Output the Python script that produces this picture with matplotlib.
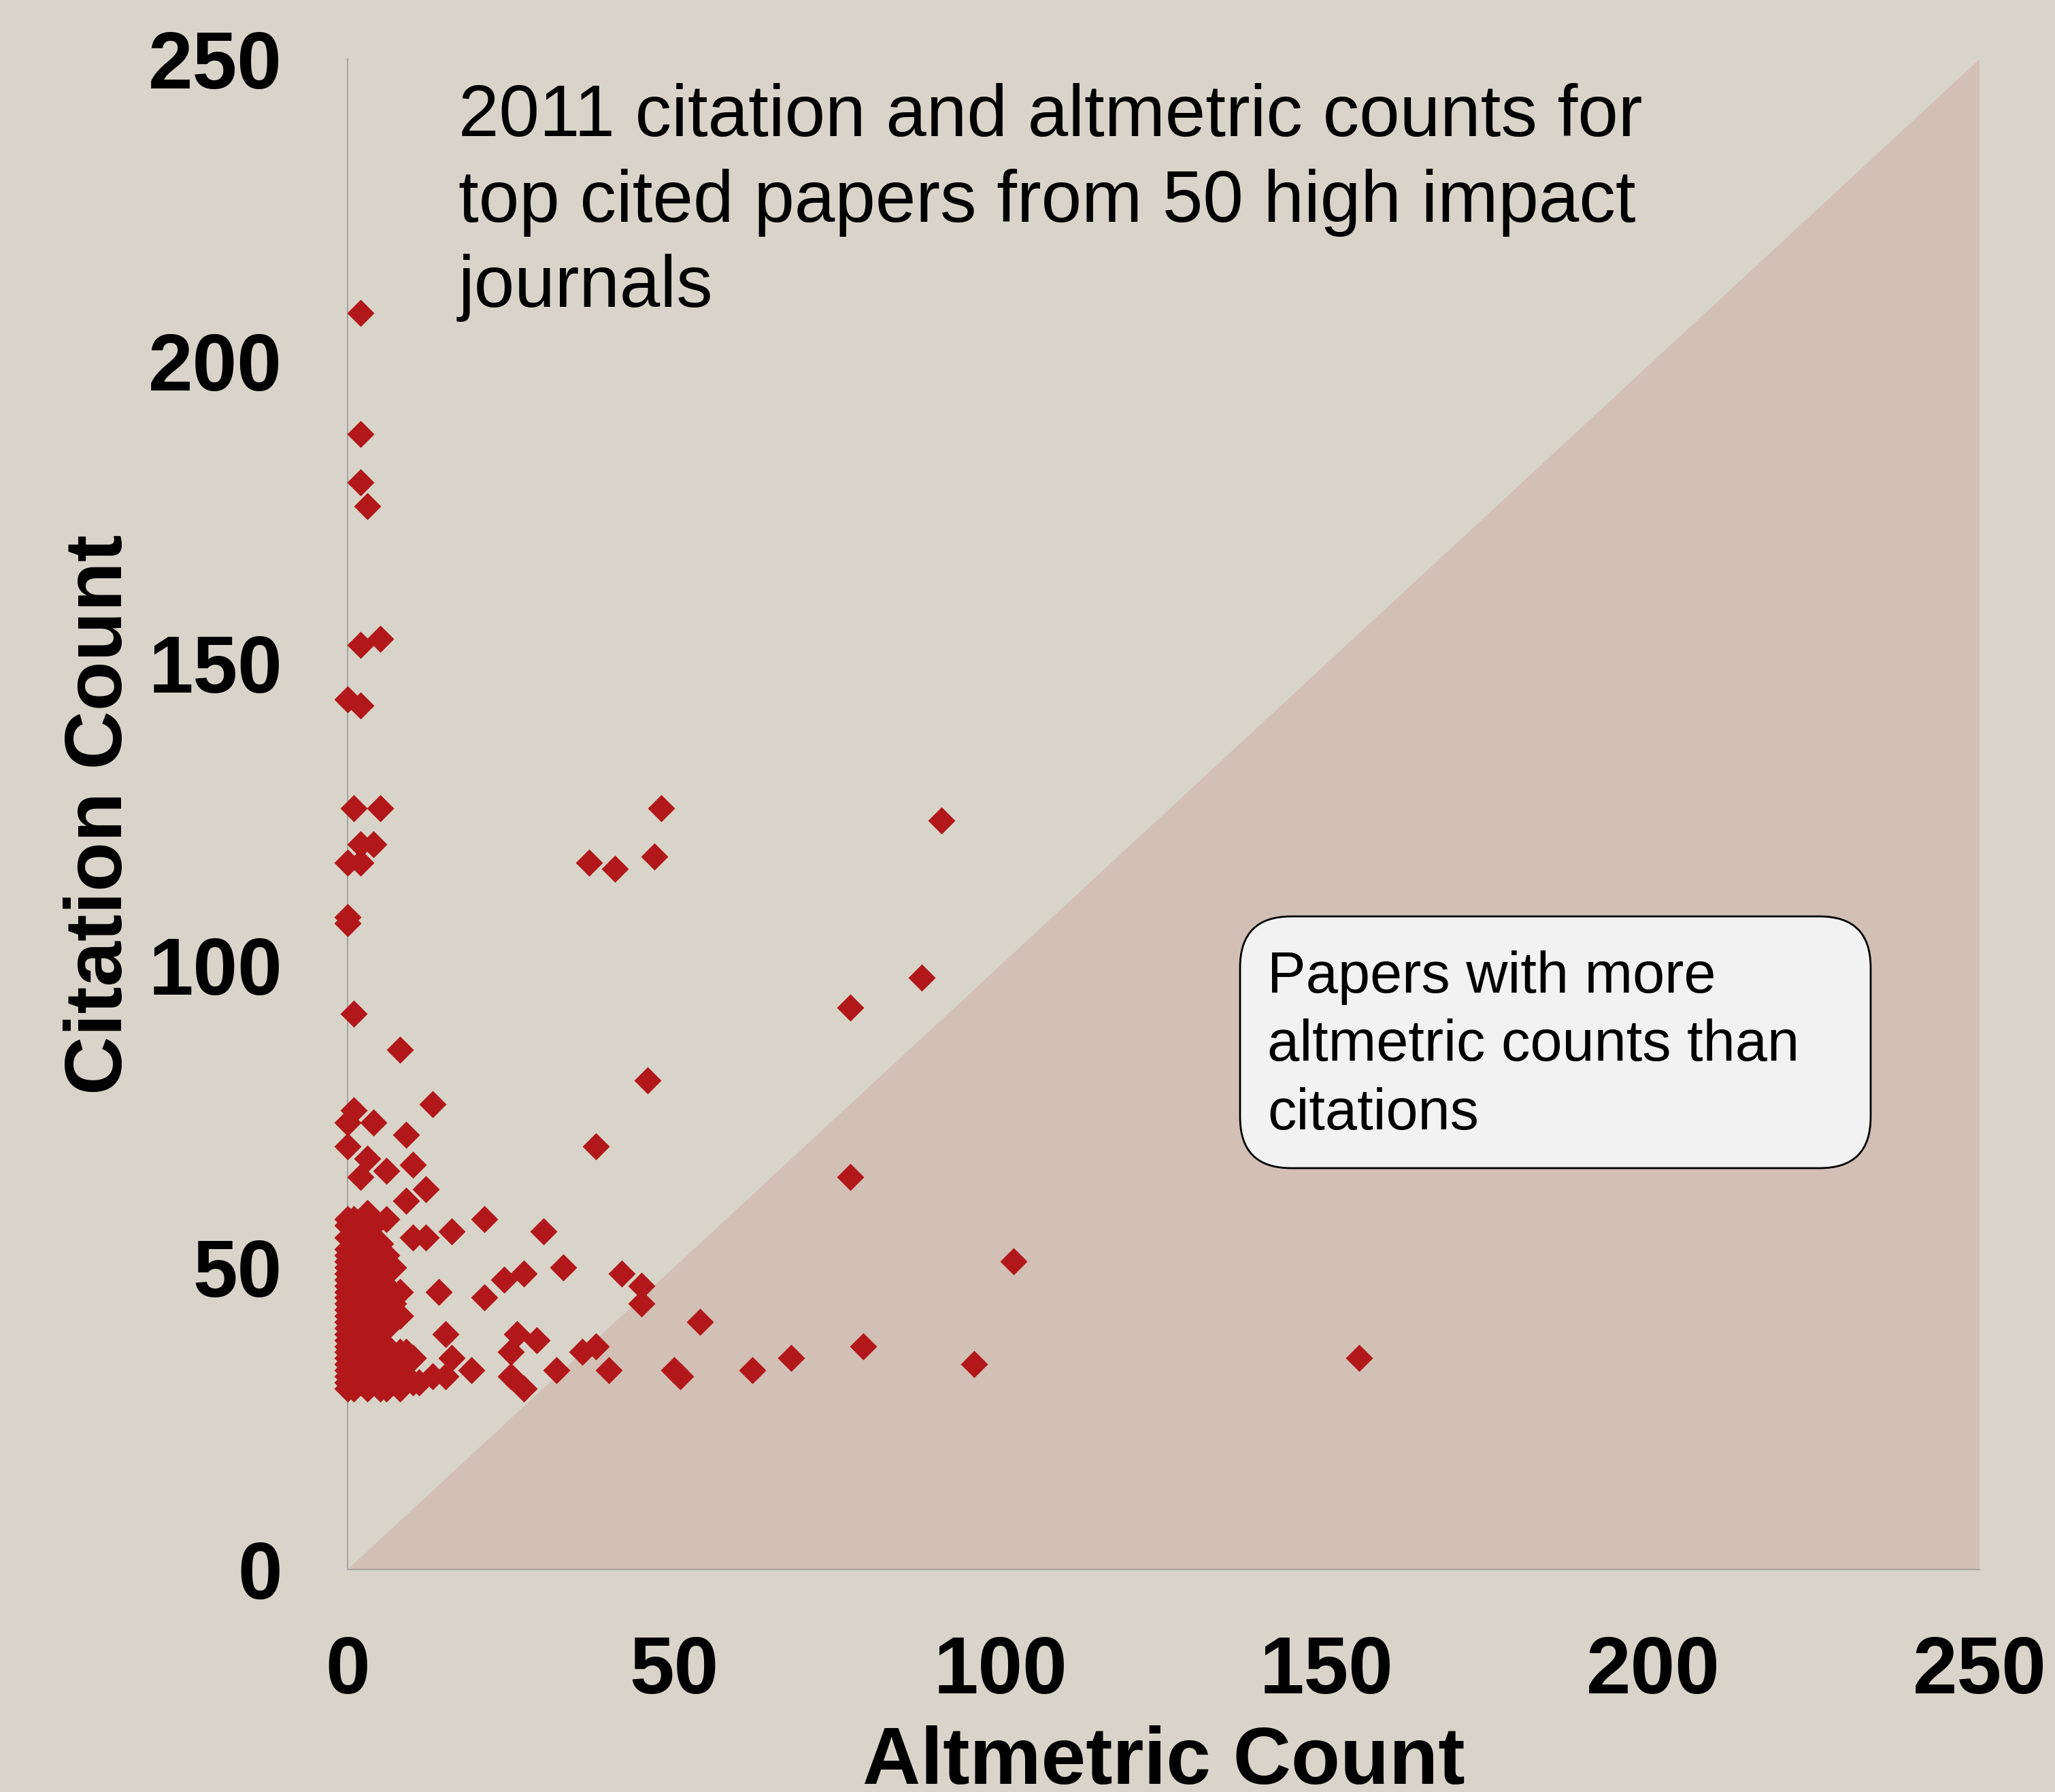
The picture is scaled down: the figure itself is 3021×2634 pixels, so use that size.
import numpy as np
import matplotlib.pyplot as plt
from matplotlib.patches import FancyBboxPatch

plt.rcParams['font.family'] = ['Liberation Sans', 'DejaVu Sans']

# scattered papers (altmetric count, citation count)
alt_sparse = [2, 2, 2, 3, 2, 5, 0, 2, 1, 5, 2, 4, 0, 2, 0, 0, 1, 8, 13, 1,
              4, 0, 9, 0, 3, 10, 2, 6, 12, 9, 6,
              48, 91, 37, 41, 47, 88, 77, 46, 38, 77, 102, 155, 96, 79, 68,
              62, 54, 50, 51, 45, 42, 45, 40, 38, 36, 32, 30, 33, 29, 27,
              24, 21, 21, 26, 25, 25, 27, 16, 12, 10, 14, 15, 16, 19, 15,
              10, 8, 8, 6, 4, 11, 13]
cit_sparse = [208, 188, 180, 176, 153, 154, 144, 143, 126, 126, 120, 120, 117, 117, 108, 107, 92, 86, 77, 76,
              74, 74, 72, 70, 68, 67, 65, 66, 63, 61, 58,
              126, 124, 117, 116, 118, 98, 93, 81, 70, 65, 51, 35, 34, 37, 35,
              33, 41, 33, 32, 47, 49, 44, 33, 37, 36, 33, 56, 50, 38, 49,
              48, 58, 45, 39, 36, 32, 30, 56, 55, 55, 46, 39, 35, 33, 32,
              35, 46, 42, 50, 53, 31, 32]

# dense block of papers with almost no altmetric activity
alt_cluster = ([0] * 27 + [1] * 15 + [2] * 14 + [3] * 14 + [4] * 12 + [5] * 10
               + [6] * 6 + [7] * 4 + [8] * 5 + [9] * 2 + [10] * 2)
cit_cluster = [30, 31, 32, 33, 34, 35, 36, 37, 38, 39, 40, 41, 42, 43, 44, 45, 46, 47, 48, 49, 50, 51, 52, 53, 55, 57, 58,
               30, 32, 34, 36, 38, 40, 42, 44, 46, 48, 50, 52, 54, 56, 58,
               31, 33, 35, 37, 39, 41, 43, 45, 47, 49, 51, 53, 55, 57,
               30, 32, 34, 36, 38, 40, 42, 44, 46, 48, 50, 52, 56, 59,
               31, 33, 35, 37, 39, 41, 43, 45, 47, 49, 53, 57,
               30, 32, 34, 36, 38, 42, 44, 48, 50, 54,
               30, 33, 37, 40, 47, 52,
               31, 35, 44, 50,
               30, 32, 33, 36, 42,
               32, 36,
               31, 35]

ticks = [0, 50, 100, 150, 200, 250]
tri_x = [0, 250, 250]
tri_y = [0, 250, 0]

bg = '#D9D4C9'
tri_col = '#D2BFB5'
red = '#B2181A'

fig = plt.figure(figsize=(30.21, 26.34), dpi=100, facecolor=bg)
ax = fig.add_axes([0.1691, 0.1241, 0.7942, 0.8429])
ax.set_facecolor(bg)

ax.fill(tri_x, tri_y, color=tri_col, lw=0, zorder=1)
ax.plot(alt_cluster + alt_sparse, cit_cluster + cit_sparse, ls='none', marker='D',
        ms=20.5, mec='none', color=red, zorder=3, clip_on=False)

ax.set_xlim(0, 250)
ax.set_ylim(0, 250)
for s in ['top', 'right']:
    ax.spines[s].set_visible(False)
for s in ['left', 'bottom']:
    ax.spines[s].set_color('#A6A6A6')
    ax.spines[s].set_linewidth(1.5)

ax.set_xticks(ticks)
ax.set_yticks(ticks)
ax.set_xticklabels([str(t) for t in ticks], fontweight='bold')
ax.set_yticklabels([str(t) for t in ticks], fontweight='bold')
ax.tick_params(axis='both', length=0, labelsize=85)
ax.tick_params(axis='x', pad=69)
ax.tick_params(axis='y', pad=69)

ax.set_xlabel('Altmetric Count', fontsize=85, fontweight='bold', labelpad=16)
ax.set_ylabel('Citation Count', fontsize=86, fontweight='bold', labelpad=10)

fig.text(674 / 3021, 1 - 122 / 2634,
         '2011 citation and altmetric counts for\ntop cited papers from 50 high impact\njournals',
         ha='left', va='top', fontsize=77, linespacing=1.33)

box = FancyBboxPatch((18.23, 9.17), 9.27, 3.70,
                     boxstyle='round,pad=0,rounding_size=0.75',
                     transform=fig.dpi_scale_trans, fc='#F2F2F2', ec='black', lw=2)
fig.add_artist(box)
fig.text(1863 / 3021, 1 - 1397 / 2634,
         'Papers with more\naltmetric counts than\ncitations',
         ha='left', va='top', fontsize=61, linespacing=1.33)

fig.savefig('out.png', dpi=100, facecolor=bg)
